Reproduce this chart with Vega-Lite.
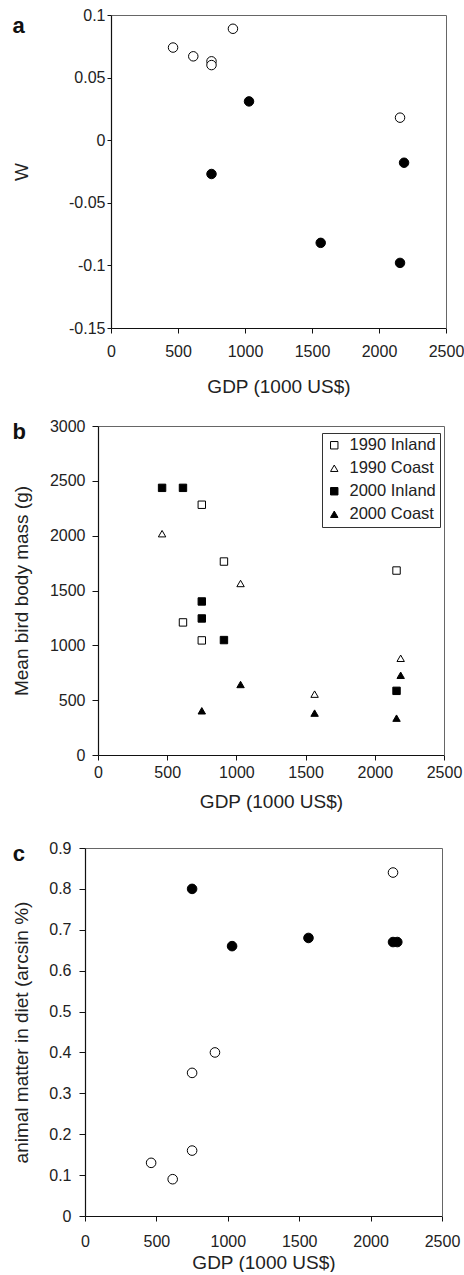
{
  "$schema": "https://vega.github.io/schema/vega-lite/v6.json",
  "background": "white",
  "padding": {"left": 12, "top": 7, "right": 0, "bottom": 0},
  "config": {
    "font": "Liberation Sans",
    "view": {"stroke": null},
    "axis": {
      "domainColor": "#111", "tickColor": "#111", "labelColor": "#222", "titleColor": "#222",
      "labelFontSize": 16, "titleFontSize": 19, "titleFontWeight": "normal", "grid": false,
      "labelFont": "Liberation Sans", "titleFont": "Liberation Sans", "domainWidth": 1.2, "tickWidth": 1,
      "labelFlush": false, "labelOverlap": false
    },
    "title": {"fontSize": 22, "fontWeight": "bold", "anchor": "start", "frame": "bounds", "color": "#111", "font": "Liberation Sans", "offset": 0},
    "legend": {
      "labelFontSize": 16.5, "labelFont": "Liberation Sans", "labelColor": "#222",
      "symbolStrokeColor": "black", "symbolStrokeWidth": 1, "symbolSize": 55,
      "rowPadding": 6, "padding": 4, "strokeColor": "#333", "fillColor": "white", "labelOffset": 7
    }
  },
  "datasets": {
    "a": [
      {"gdp": 463, "w": 0.074, "g": "open"},
      {"gdp": 614, "w": 0.067, "g": "open"},
      {"gdp": 750, "w": 0.063, "g": "open"},
      {"gdp": 750, "w": 0.060, "g": "open"},
      {"gdp": 910, "w": 0.089, "g": "open"},
      {"gdp": 2157, "w": 0.018, "g": "open"},
      {"gdp": 1030, "w": 0.031, "g": "filled"},
      {"gdp": 750, "w": -0.027, "g": "filled"},
      {"gdp": 2187, "w": -0.018, "g": "filled"},
      {"gdp": 1565, "w": -0.082, "g": "filled"},
      {"gdp": 2157, "w": -0.098, "g": "filled"}
    ],
    "b": [
      {"gdp": 750, "mass": 2282, "series": "1990 Inland"},
      {"gdp": 910, "mass": 1764, "series": "1990 Inland"},
      {"gdp": 614, "mass": 1209, "series": "1990 Inland"},
      {"gdp": 750, "mass": 1045, "series": "1990 Inland"},
      {"gdp": 2157, "mass": 1682, "series": "1990 Inland"},
      {"gdp": 463, "mass": 2018, "series": "1990 Coast"},
      {"gdp": 1030, "mass": 1564, "series": "1990 Coast"},
      {"gdp": 1565, "mass": 555, "series": "1990 Coast"},
      {"gdp": 2187, "mass": 882, "series": "1990 Coast"},
      {"gdp": 463, "mass": 2436, "series": "2000 Inland"},
      {"gdp": 614, "mass": 2436, "series": "2000 Inland"},
      {"gdp": 750, "mass": 1400, "series": "2000 Inland"},
      {"gdp": 750, "mass": 1245, "series": "2000 Inland"},
      {"gdp": 910, "mass": 1048, "series": "2000 Inland"},
      {"gdp": 2157, "mass": 585, "series": "2000 Inland"},
      {"gdp": 750, "mass": 403, "series": "2000 Coast"},
      {"gdp": 1030, "mass": 643, "series": "2000 Coast"},
      {"gdp": 1565, "mass": 382, "series": "2000 Coast"},
      {"gdp": 2187, "mass": 727, "series": "2000 Coast"},
      {"gdp": 2157, "mass": 336, "series": "2000 Coast"}
    ],
    "c": [
      {"gdp": 463, "am": 0.13, "g": "open"},
      {"gdp": 614, "am": 0.09, "g": "open"},
      {"gdp": 750, "am": 0.16, "g": "open"},
      {"gdp": 750, "am": 0.35, "g": "open"},
      {"gdp": 910, "am": 0.40, "g": "open"},
      {"gdp": 2157, "am": 0.84, "g": "open"},
      {"gdp": 750, "am": 0.80, "g": "filled"},
      {"gdp": 1030, "am": 0.66, "g": "filled"},
      {"gdp": 1565, "am": 0.68, "g": "filled"},
      {"gdp": 2157, "am": 0.67, "g": "filled"},
      {"gdp": 2187, "am": 0.67, "g": "filled"}
    ]
  },
  "columns": 1,
  "spacing": 22,
  "align": "none",
  "resolve": {"scale": {"fill": "independent", "shape": "independent", "stroke": "independent"}, "legend": {"fill": "independent", "shape": "independent", "stroke": "independent"}},
  "concat": [
    {
      "width": 361, "height": 313,
      "data": {"name": "a"},
      "title": {"text": "a", "dy": 35},
      "resolve": {"axis": {"x": "independent", "y": "independent"}},
      "layer": [
        {
          "mark": {"type": "point", "shape": "circle", "size": 90, "stroke": "black", "strokeWidth": 1, "opacity": 1},
          "encoding": {
            "x": {"field": "gdp", "type": "quantitative", "scale": {"domain": [0, 2500], "range": [26, 361], "nice": false, "zero": false},
              "axis": {"title": "GDP (1000 US$)", "values": [0, 500, 1000, 1500, 2000, 2500], "format": "d", "tickSize": 5, "labelPadding": 10, "titlePadding": 18}},
            "y": {"field": "w", "type": "quantitative", "scale": {"domain": [-0.15, 0.1], "nice": false, "zero": false},
              "axis": {"title": "W", "offset": -26, "values": [-0.15, -0.1, -0.05, 0, 0.05, 0.1], "labelExpr": "'' + datum.value", "tickSize": 4, "labelPadding": 2, "titlePadding": 37}},
            "fill": {"field": "g", "type": "nominal", "scale": {"domain": ["open", "filled"], "range": ["white", "black"]}, "legend": null}
          }
        },
        {
          "mark": {"type": "point", "opacity": 0},
          "encoding": {
            "x": {"field": "gdp", "type": "quantitative", "axis": {"orient": "top", "labels": false, "ticks": false, "title": null, "domainColor": "#666", "domainWidth": 1, "minExtent": 0}},
            "y": {"field": "w", "type": "quantitative", "axis": {"orient": "right", "labels": false, "ticks": false, "title": null, "domainColor": "#666", "domainWidth": 1, "minExtent": 0}}
          }
        }
      ]
    },
    {
      "columns": 1,
      "spacing": 29,
      "align": "none",
      "resolve": {"scale": {"fill": "independent", "shape": "independent", "stroke": "independent"}, "legend": {"fill": "independent", "shape": "independent", "stroke": "independent"}},
      "concat": [
        {
          "width": 359, "height": 329,
          "data": {"name": "b"},
          "title": {"text": "b", "dy": 30},
          "resolve": {"axis": {"x": "independent", "y": "independent"}},
          "layer": [
            {
              "mark": {"type": "point", "size": 55, "strokeWidth": 1, "opacity": 1},
              "encoding": {
                "x": {"field": "gdp", "type": "quantitative", "scale": {"domain": [0, 2500], "range": [13, 359], "nice": false, "zero": false},
                  "axis": {"title": "GDP (1000 US$)", "values": [0, 500, 1000, 1500, 2000, 2500], "format": "d", "tickSize": 5, "labelPadding": 4, "titlePadding": 12}},
                "y": {"field": "mass", "type": "quantitative", "scale": {"domain": [0, 3000], "nice": false},
                  "axis": {"title": "Mean bird body mass (g)", "offset": -13, "values": [0, 500, 1000, 1500, 2000, 2500, 3000], "format": "d", "tickSize": 6, "labelPadding": 7, "titlePadding": 18}},
                "fill": {"field": "series", "type": "nominal",
                  "scale": {"domain": ["1990 Inland", "1990 Coast", "2000 Inland", "2000 Coast"], "range": ["white", "white", "black", "black"]},
                  "legend": {"title": null, "orient": "none", "legendX": 237, "legendY": 7}},
                "stroke": {"field": "series", "type": "nominal",
                  "scale": {"domain": ["1990 Inland", "1990 Coast", "2000 Inland", "2000 Coast"], "range": ["black", "black", "black", "black"]},
                  "legend": {"title": null, "orient": "none", "legendX": 237, "legendY": 7}},
                "shape": {"field": "series", "type": "nominal",
                  "scale": {"domain": ["1990 Inland", "1990 Coast", "2000 Inland", "2000 Coast"], "range": ["square", "triangle-up", "square", "triangle-up"]},
                  "legend": {"title": null, "orient": "none", "legendX": 237, "legendY": 7}}
              }
            },
            {
              "mark": {"type": "point", "opacity": 0},
              "encoding": {
                "x": {"field": "gdp", "type": "quantitative", "axis": {"orient": "top", "labels": false, "ticks": false, "title": null, "domainColor": "#666", "domainWidth": 1, "minExtent": 0}},
                "y": {"field": "mass", "type": "quantitative", "axis": {"orient": "right", "labels": false, "ticks": false, "title": null, "domainColor": "#666", "domainWidth": 1, "minExtent": 0}}
              }
            }
          ]
        },
        {
          "width": 357, "height": 368,
          "data": {"name": "c"},
          "title": {"text": "c", "dy": 30},
          "resolve": {"axis": {"x": "independent", "y": "independent"}},
          "layer": [
            {
              "mark": {"type": "point", "shape": "circle", "size": 92, "stroke": "black", "strokeWidth": 1, "opacity": 1},
              "encoding": {
                "x": {"field": "gdp", "type": "quantitative", "scale": {"domain": [0, 2500], "nice": false, "zero": false},
                  "axis": {"title": "GDP (1000 US$)", "values": [0, 500, 1000, 1500, 2000, 2500], "format": "d", "tickSize": 5, "labelPadding": 12, "titlePadding": 4}},
                "y": {"field": "am", "type": "quantitative", "scale": {"domain": [0, 0.9], "nice": false, "zero": false},
                  "axis": {"title": "animal matter in diet (arcsin %)", "values": [0, 0.1, 0.2, 0.3, 0.4, 0.5, 0.6, 0.7, 0.8, 0.9], "labelExpr": "'' + datum.value", "tickSize": 6, "labelPadding": 8, "titlePadding": 17}},
                "fill": {"field": "g", "type": "nominal", "scale": {"domain": ["open", "filled"], "range": ["white", "black"]}, "legend": null}
              }
            },
            {
              "mark": {"type": "point", "opacity": 0},
              "encoding": {
                "x": {"field": "gdp", "type": "quantitative", "axis": {"orient": "top", "labels": false, "ticks": false, "title": null, "domainColor": "#666", "domainWidth": 1, "minExtent": 0}},
                "y": {"field": "am", "type": "quantitative", "axis": {"orient": "right", "labels": false, "ticks": false, "title": null, "domainColor": "#666", "domainWidth": 1, "minExtent": 0}}
              }
            }
          ]
        }
      ]
    }
  ]
}
